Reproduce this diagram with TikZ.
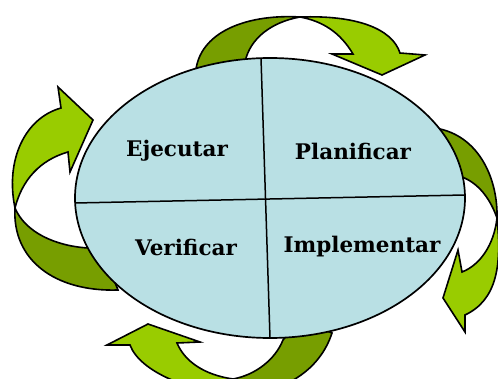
\documentclass[tikz,border=0pt]{standalone}
\usepackage{fontspec}
\setmainfont{DejaVu Serif}
\definecolor{hoja}{RGB}{153,204,0}
\definecolor{hojaosc}{RGB}{119,158,0}
\definecolor{celeste}{RGB}{185,224,228}
\tikzset{
  frente/.style={fill=hoja,draw=black,line width=1.6pt,line join=miter},
  dorso/.style={fill=hojaosc,draw=black,line width=1.6pt},
  oval/.style={fill=celeste,draw=black,line width=1.7pt},
  corte/.style={draw=black,line width=1.5pt},
  etiqueta/.style={font=\bfseries\fontsize{21.5}{25}\selectfont}
}
\begin{document}
\begin{tikzpicture}[x=1pt,y=-1pt]
\clip (0,0) rectangle (498,379);
  \path[dorso] (196,69) .. controls (202,30) and (250,14) .. (300,17)
     .. controls (272,22) and (250,38) .. (245,62) -- (220,75) -- cycle;
  \path[frente] (300,17) .. controls (355,15) and (392,28) .. (400,53)
     -- (425,55) -- (382,75) -- (332,54) -- (353,54)
     .. controls (340,32) and (322,21) .. (300,17) -- cycle;
  \path[dorso] (440,129) .. controls (480,138) and (498,180) .. (497,218)
     .. controls (490,198) and (478,183) .. (462,177) -- (440,160) -- cycle;
  \path[frente] (497,218) .. controls (502,265) and (497,300) .. (465,315)
     -- (465,332) -- (443,298) -- (458,250) -- (462,272)
     .. controls (480,265) and (494,245) .. (497,218) -- cycle;
  \path[dorso] (233,379) .. controls (255,375) and (275,360) .. (283,340)
     -- (300,320) -- (332,333) .. controls (320,370) and (285,392) .. (240,396) -- cycle;
  \path[frente] (148,324) -- (200,342) -- (177,343)
     .. controls (185,362) and (205,375) .. (233,379) -- (240,396)
     .. controls (190,392) and (140,372) .. (130,345) -- (107,345) -- cycle;
  \path[dorso] (15,208) .. controls (12,260) and (55,292) .. (118,290)
     -- (110,270) -- (88,248) .. controls (55,246) and (25,232) .. (15,208) -- cycle;
  \path[frente] (15,208) .. controls (5,160) and (25,118) .. (61,108)
     -- (58,87) -- (93,120) -- (70,172) -- (68,152)
     .. controls (40,160) and (22,180) .. (15,208) -- cycle;
  \path[oval] (270,198) ellipse [x radius=195pt, y radius=140pt];
  \coordinate (arriba) at (261,58);
  \coordinate (abajo) at (270,338);
  \coordinate (izq) at (75,203);
  \coordinate (der) at (465,195);
  \draw[corte] (arriba) -- (abajo);
  \draw[corte] (izq) -- (der);
  \node[etiqueta] (ejec) at (177,151) {Ejecutar};
  \node[etiqueta] (plan) at (353,151) {Planificar};
  \node[etiqueta] (veri) at (186,247) {Verificar};
  \node[etiqueta] (impl) at (362,247) {Implementar};
\end{tikzpicture}
\end{document}
